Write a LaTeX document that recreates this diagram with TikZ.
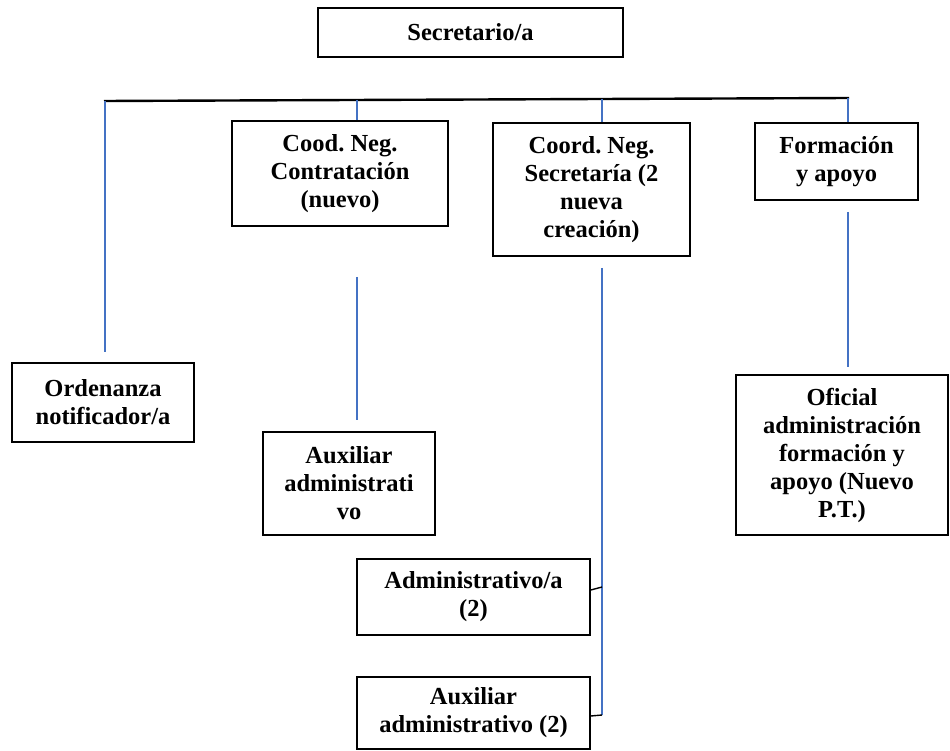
\documentclass[tikz,border=0pt]{standalone}
\usepackage{fontspec}
\setmainfont{Liberation Serif}
\usepackage{xcolor}
\definecolor{linkblue}{RGB}{68,114,196}
\frenchspacing
\tikzset{
	orgbox/.style={
			draw, line width=1.6pt, align=center, inner sep=0pt,
			font=\bfseries\fontsize{24.5pt}{28pt}\selectfont
		},
	bluelink/.style={linkblue, line width=1.3pt}
}

\begin{document}
\begin{tikzpicture}[x=1pt, y=-1pt]
		\useasboundingbox (0,0) rectangle (950,751);

		% Draw the boxes
		\node[orgbox, minimum width=305, minimum height=49] (sec) at (470.5,32.5) {Secretario/a};
		\node[orgbox, minimum width=216, minimum height=105] (cood) at (340,173.5) {Cood. Neg.\\ Contratación\\ (nuevo)};
		\node[orgbox, minimum width=197, minimum height=133] (coord) at (591.5,189.5) {Coord. Neg.\\ Secretaría (2\\ nueva\\ creación)};
		\node[orgbox, minimum width=163, minimum height=77] (form) at (836.5,161.5) {Formación\\ y apoyo};
		\node[orgbox, minimum width=182, minimum height=79] (orden) at (103,402.5) {Ordenanza\\ notificador/a};
		\node[orgbox, minimum width=172, minimum height=103] (aux) at (349,483.5) {Auxiliar\\ administrati\\ vo};
		\node[orgbox, minimum width=233, minimum height=76] (admin) at (473.5,597) {Administrativo/a\\ (2)};
		\node[orgbox, minimum width=233, minimum height=72] (auxdos) at (473.5,713) {Auxiliar\\ administrativo (2)};
		\node[orgbox, minimum width=212, minimum height=160] (ofic) at (842,455) {Oficial\\ administración\\ formación y\\ apoyo (Nuevo\\ P.T.)};

		% Draw the top bar
		\coordinate (barL) at (104,101);
		\coordinate (barR) at (849,98);
		\draw[line width=2.4pt] (barL) -- (barR);

		% Draw the drops from the bar
		\coordinate (dropA) at (105,101);
		\coordinate (dropB) at (357,100);
		\coordinate (dropC) at (602,99);
		\coordinate (dropD) at (848,98);
		\coordinate (endA) at (105,352);
		\draw[bluelink] (dropA) -- (endA);
		\draw[bluelink] (dropB) -- (dropB |- cood.north);
		\draw[bluelink] (dropC) -- (dropC |- coord.north);
		\draw[bluelink] (dropD) -- (dropD |- form.north);

		% Draw the lower links
		\coordinate (lowB1) at (357,277);
		\coordinate (lowB2) at (357,420);
		\draw[bluelink] (lowB1) -- (lowB2);
		\coordinate (lowD1) at (848,212);
		\coordinate (lowD2) at (848,367);
		\draw[bluelink] (lowD1) -- (lowD2);
		\coordinate (lowC1) at (602,268);
		\coordinate (lowC2) at (602,715);
		\draw[bluelink] (lowC1) -- (lowC2);

		% Draw the side ties
		\coordinate (tieA) at (602,587);
		\draw[line width=1.4pt] ([yshift=7pt]admin.east) -- (tieA);
		\draw[line width=1.4pt] ([yshift=-3pt]auxdos.east) -- (lowC2);
	\end{tikzpicture}
\end{document}
